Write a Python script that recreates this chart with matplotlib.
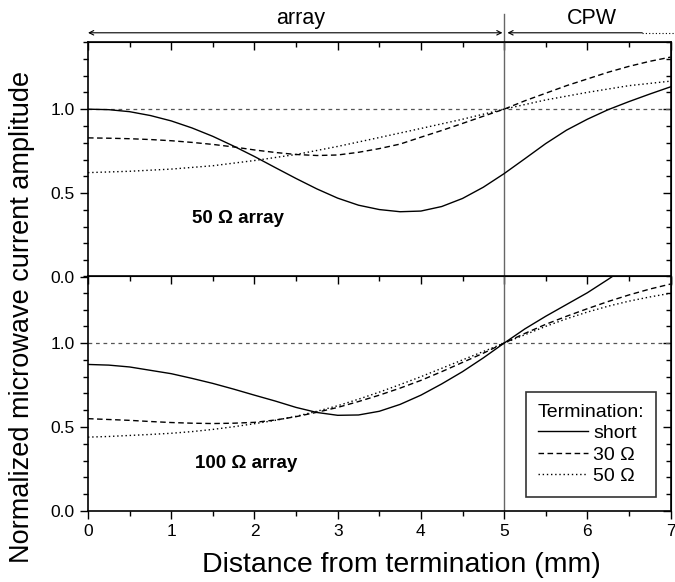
import matplotlib
matplotlib.use("Agg")
import matplotlib.pyplot as plt
from matplotlib.ticker import MultipleLocator

plt.rcParams['font.family'] = ['Liberation Sans', 'DejaVu Sans']

# distance from termination (mm), 0.25 mm steps
x_q = [0, 0.25, 0.5, 0.75, 1.0, 1.25, 1.5, 1.75, 2.0, 2.25, 2.5, 2.75, 3.0, 3.25,
       3.5, 3.75, 4.0, 4.25, 4.5, 4.75, 5.0, 5.25, 5.5, 5.75, 6.0, 6.25, 6.5, 6.75, 7.0]
x_h = [0, 0.5, 1.0, 1.5, 2.0, 2.5, 3.0, 3.5, 4.0, 4.5, 5.0, 5.5, 6.0, 6.5, 7.0]

# 50 Ohm array
top_short = [1.0, 0.997, 0.985, 0.962, 0.93, 0.888, 0.838, 0.78, 0.718, 0.652, 0.587,
             0.525, 0.47, 0.428, 0.402, 0.389, 0.393, 0.42, 0.468, 0.535, 0.616, 0.705,
             0.795, 0.875, 0.94, 0.997, 1.045, 1.09, 1.133]
top_30 = [0.829, 0.827, 0.824, 0.819, 0.812, 0.802, 0.79, 0.775, 0.757, 0.742, 0.73,
          0.724, 0.727, 0.743, 0.765, 0.792, 0.833, 0.873, 0.915, 0.958, 1.0, 1.05,
          1.095, 1.14, 1.18, 1.22, 1.255, 1.285, 1.31]
top_50 = [0.622, 0.63, 0.643, 0.663, 0.694, 0.73, 0.778, 0.831, 0.885, 0.94, 1.0, 1.055,
          1.1, 1.14, 1.167]

# 100 Ohm array
x_bs = x_q[:26] + [6.31]
bot_short = [0.873, 0.869, 0.858, 0.838, 0.818, 0.79, 0.76, 0.726, 0.69, 0.655, 0.617,
             0.587, 0.57, 0.572, 0.594, 0.635, 0.69, 0.757, 0.83, 0.912, 1.0, 1.085,
             1.16, 1.23, 1.3, 1.38, 1.40]
bot_30 = [0.55, 0.545, 0.54, 0.533, 0.527, 0.523, 0.521, 0.523, 0.528, 0.542, 0.562,
          0.588, 0.617, 0.652, 0.69, 0.732, 0.778, 0.83, 0.885, 0.94, 1.0, 1.058,
          1.112, 1.16, 1.205, 1.248, 1.287, 1.322, 1.352]
bot_50 = [0.44, 0.444, 0.45, 0.456, 0.463, 0.473, 0.486, 0.502, 0.52, 0.54, 0.564,
          0.594, 0.627, 0.666, 0.708, 0.753, 0.8, 0.85, 0.9, 0.95, 1.0, 1.05, 1.1,
          1.145, 1.185, 1.22, 1.25, 1.275, 1.297]

legend_labels = ['short', '30 \u03a9', '50 \u03a9']

fig = plt.figure(figsize=(6.75, 5.82), dpi=100)
ax1 = fig.add_axes([0.1304, 0.524, 0.863, 0.4038])
ax2 = fig.add_axes([0.1304, 0.122, 0.863, 0.4038])

for ax in (ax1, ax2):
    ax.set_xlim(0, 7)
    ax.set_ylim(0, 1.4)
    ax.xaxis.set_major_locator(MultipleLocator(1))
    ax.xaxis.set_minor_locator(MultipleLocator(0.5))
    ax.yaxis.set_major_locator(MultipleLocator(0.5))
    ax.yaxis.set_minor_locator(MultipleLocator(0.1))
    ax.tick_params(which='both', direction='out', top=False, right=False, labelsize=12.5)
    ax.tick_params(which='major', length=6, width=1)
    ax.tick_params(which='minor', length=3.5, width=1)
    ax.set_yticks([0, 0.5, 1.0])
    for s in ax.spines.values():
        s.set_linewidth(1.2)
    # mirrored ticks pointing inward on top and right
    sx = ax.secondary_xaxis('top')
    sx.xaxis.set_major_locator(MultipleLocator(1))
    sx.xaxis.set_minor_locator(MultipleLocator(0.5))
    sx.tick_params(which='both', direction='in', labeltop=False)
    sx.tick_params(which='major', length=6, width=1)
    sx.tick_params(which='minor', length=3.5, width=1)
    sy = ax.secondary_yaxis('right')
    sy.yaxis.set_major_locator(MultipleLocator(0.5))
    sy.yaxis.set_minor_locator(MultipleLocator(0.1))
    sy.tick_params(which='both', direction='in', labelright=False)
    sy.tick_params(which='major', length=6, width=1)
    sy.tick_params(which='minor', length=3.5, width=1)
    ax.axhline(1.0, color='#555555', lw=0.9, ls=(0, (3, 3)))
    ax.axvline(5.0, color='#666666', lw=1.0)

ax1.set_xticklabels([])

ax1.plot(x_q, top_short, color='black', lw=1.0, ls='-')
ax1.plot(x_q, top_30, color='black', lw=1.0, ls=(0, (4, 2.5)))
ax1.plot(x_h, top_50, color='black', lw=1.0, ls=(0, (1, 2)))

ax2.plot(x_bs, bot_short, color='black', lw=1.0, ls='-', label=legend_labels[0])
ax2.plot(x_q, bot_30, color='black', lw=1.0, ls=(0, (4, 2.5)), label=legend_labels[1])
ax2.plot(x_q, bot_50, color='black', lw=1.0, ls=(0, (1, 2)), label=legend_labels[2])

ax1.text(1.25, 0.35, '50 \u03a9 array', fontsize=13.5, fontweight='bold', va='center')
ax2.text(1.28, 0.28, '100 \u03a9 array', fontsize=13.5, fontweight='bold', va='center')

leg = ax2.legend(title='Termination:', loc='lower right', bbox_to_anchor=(0.975, 0.06),
                 fontsize=14, title_fontsize=14, frameon=True, fancybox=False,
                 edgecolor='black', handlelength=2.6, handletextpad=0.25,
                 borderpad=0.6, labelspacing=0.2, borderaxespad=0)
leg._legend_box.align = 'left'
leg.get_frame().set_linewidth(1.2)

# header: region arrows
ax1.annotate('', xy=(0, 1.455), xytext=(4.98, 1.455), xycoords='data',
             arrowprops=dict(arrowstyle='<->', lw=0.8, color='black',
                             shrinkA=0, shrinkB=0, mutation_scale=8),
             annotation_clip=False)
ax1.annotate('', xy=(5.04, 1.455), xytext=(6.66, 1.455), xycoords='data',
             arrowprops=dict(arrowstyle='->', lw=0.8, color='black',
                             shrinkA=0, shrinkB=0, mutation_scale=8),
             annotation_clip=False)
ax1.plot([6.66, 7.05], [1.455, 1.455], color='black', lw=0.8, ls=(0, (1, 2)), clip_on=False)
ax1.plot([5, 5], [1.4, 1.565], color='#666666', lw=1.0, clip_on=False)
ax1.text(2.55, 1.54, 'array', fontsize=15.5, ha='center', va='center')
ax1.text(6.06, 1.54, 'CPW', fontsize=15.5, ha='center', va='center')

fig.text(0.594, 0.03, 'Distance from termination (mm)', fontsize=20.5, ha='center', va='center')
fig.text(0.033, 0.455, 'Normalized microwave current amplitude', rotation=90,
         fontsize=19.5, ha='center', va='center')

fig.savefig('out.png', dpi=100)
